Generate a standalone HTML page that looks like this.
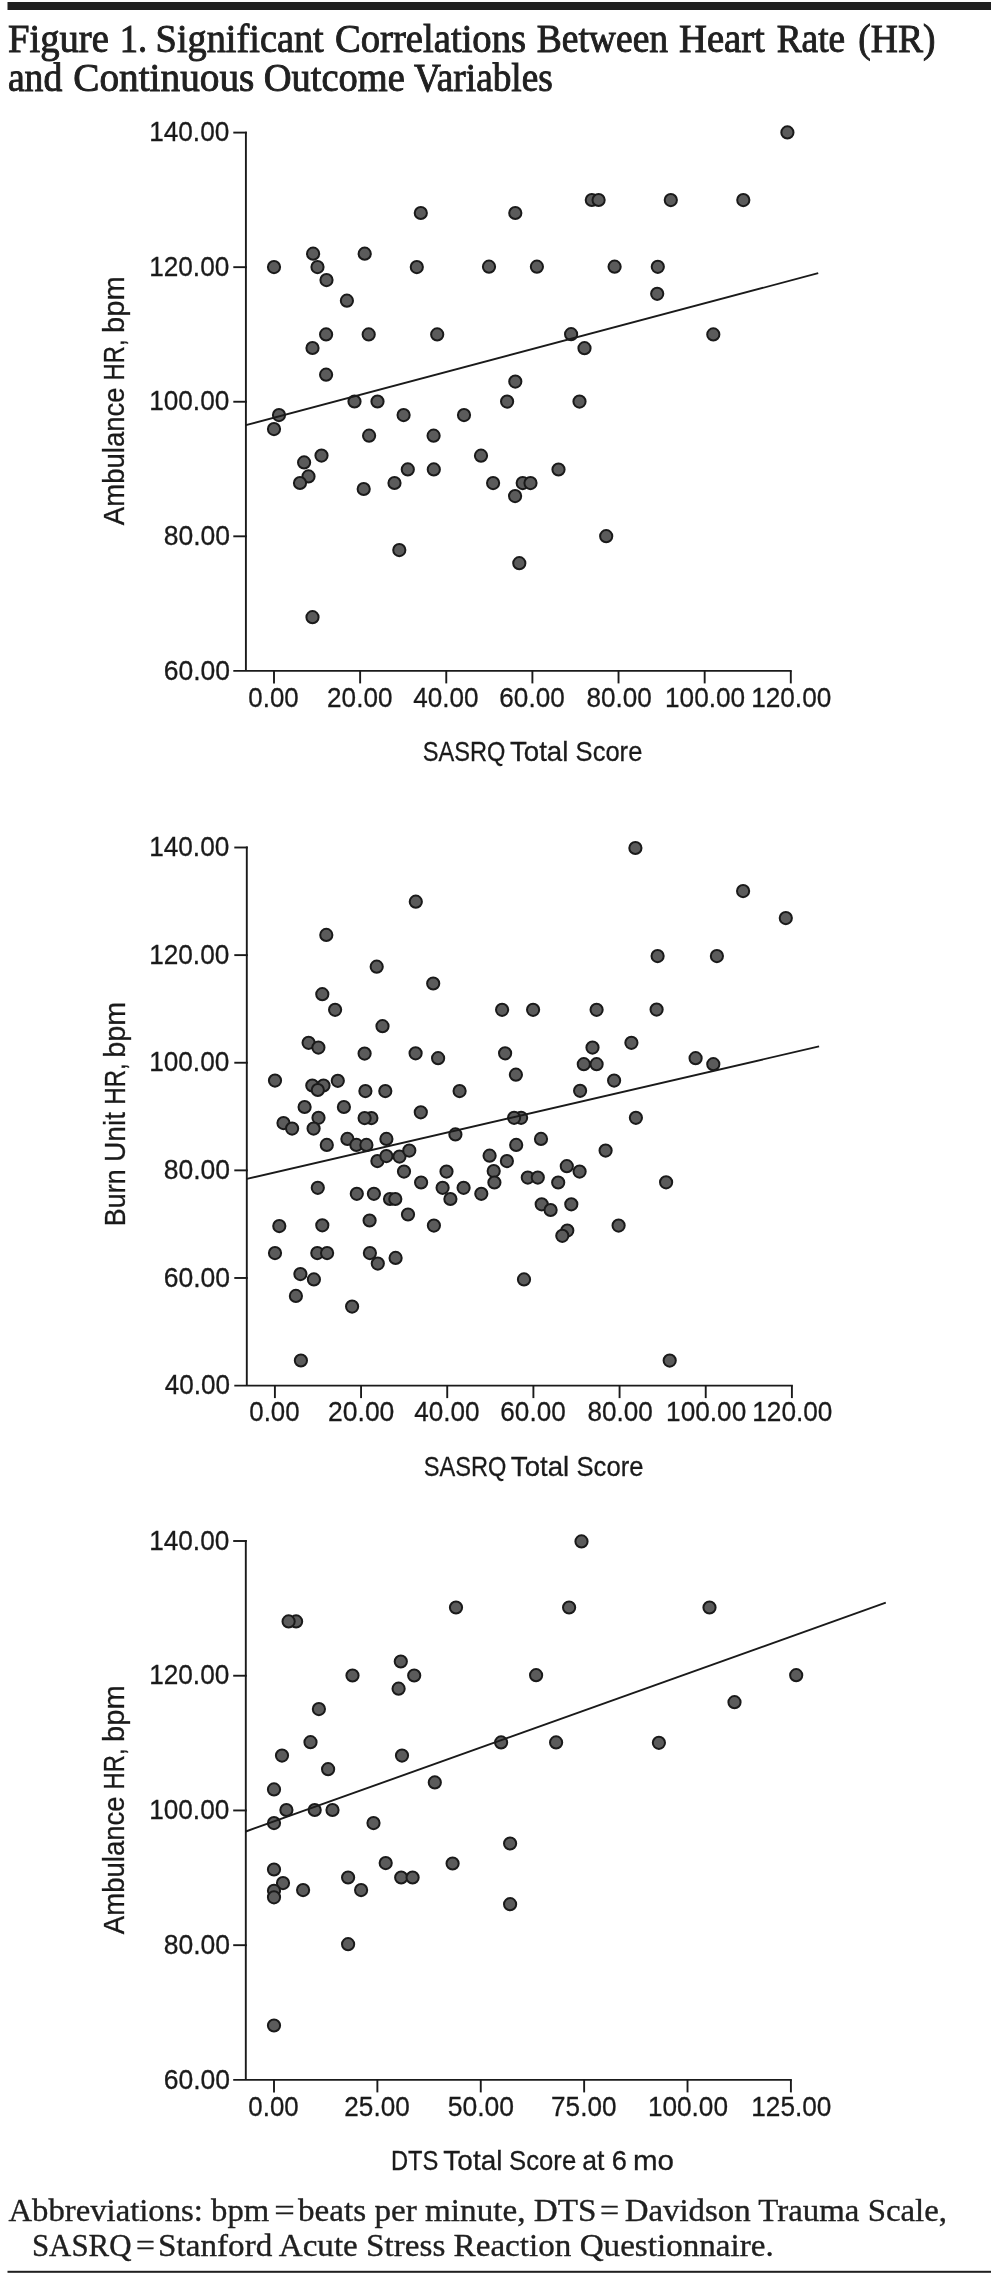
<!DOCTYPE html>
<html><head><meta charset="utf-8"><title>Figure 1</title>
<style>
html,body{margin:0;padding:0;background:#fff;}
body{width:999px;height:2276px;overflow:hidden;}
svg{display:block;will-change:transform;}
text{fill:#1a1a1a;}
.tk,.ti,.tr{stroke:#1a1a1a;stroke-width:0.3px;}
.tk{font-family:"Liberation Sans",sans-serif;font-size:28.0px;}
.ti{font-family:"Liberation Sans",sans-serif;font-size:28.5px;}
.tr{font-family:"Liberation Sans",sans-serif;font-size:29.3px;}
.hd{font-family:"Liberation Serif",serif;font-size:39.5px;fill:#202020;stroke:#202020;stroke-width:0.9px;}
.fn{font-family:"Liberation Serif",serif;font-size:32.5px;fill:#202020;stroke:#202020;stroke-width:0.35px;}
circle{fill:#5b5b5b;stroke:#1a1a1a;stroke-width:2.0;}
.ax{fill:none;stroke:#1a1a1a;stroke-width:1.9;}
</style></head>
<body>
<svg width="999" height="2276" viewBox="0 0 999 2276">
<rect x="7.5" y="2" width="983.5" height="8" fill="#202020"/>
<path d="M245.9 131.65V670.9" class="ax"/>
<path d="M233.3 670.9H791.75" class="ax"/>
<path d="M233.3 132.60H246.85" class="ax"/>
<path d="M233.3 267.17H246.85" class="ax"/>
<path d="M233.3 401.75H246.85" class="ax"/>
<path d="M233.3 536.32H246.85" class="ax"/>
<path d="M274.00 670.9V683.4" class="ax"/>
<path d="M360.13 670.9V683.4" class="ax"/>
<path d="M446.27 670.9V683.4" class="ax"/>
<path d="M532.40 670.9V683.4" class="ax"/>
<path d="M618.53 670.9V683.4" class="ax"/>
<path d="M704.67 670.9V683.4" class="ax"/>
<path d="M790.80 670.9V683.4" class="ax"/>
<circle cx="274.0" cy="267.1" r="6.1"/>
<circle cx="313.1" cy="253.7" r="6.1"/>
<circle cx="317.5" cy="267.1" r="6.1"/>
<circle cx="326.5" cy="280.1" r="6.1"/>
<circle cx="346.9" cy="300.7" r="6.1"/>
<circle cx="364.7" cy="253.7" r="6.1"/>
<circle cx="420.8" cy="213.0" r="6.1"/>
<circle cx="416.8" cy="267.1" r="6.1"/>
<circle cx="326.1" cy="334.4" r="6.1"/>
<circle cx="368.7" cy="334.4" r="6.1"/>
<circle cx="437.2" cy="334.4" r="6.1"/>
<circle cx="312.5" cy="348.0" r="6.1"/>
<circle cx="326.1" cy="374.7" r="6.1"/>
<circle cx="279.0" cy="415.1" r="6.1"/>
<circle cx="274.0" cy="429.1" r="6.1"/>
<circle cx="354.5" cy="401.5" r="6.1"/>
<circle cx="377.5" cy="401.5" r="6.1"/>
<circle cx="403.6" cy="415.1" r="6.1"/>
<circle cx="369.1" cy="435.7" r="6.1"/>
<circle cx="433.6" cy="435.7" r="6.1"/>
<circle cx="321.5" cy="455.6" r="6.1"/>
<circle cx="304.1" cy="462.4" r="6.1"/>
<circle cx="308.5" cy="476.4" r="6.1"/>
<circle cx="300.0" cy="483.0" r="6.1"/>
<circle cx="363.7" cy="489.0" r="6.1"/>
<circle cx="407.8" cy="469.4" r="6.1"/>
<circle cx="433.8" cy="469.4" r="6.1"/>
<circle cx="394.5" cy="483.0" r="6.1"/>
<circle cx="399.3" cy="550.1" r="6.1"/>
<circle cx="312.5" cy="617.2" r="6.1"/>
<circle cx="515.3" cy="213.0" r="6.1"/>
<circle cx="591.8" cy="200.0" r="6.1"/>
<circle cx="598.6" cy="200.0" r="6.1"/>
<circle cx="489.0" cy="266.7" r="6.1"/>
<circle cx="536.9" cy="266.7" r="6.1"/>
<circle cx="614.6" cy="266.7" r="6.1"/>
<circle cx="571.1" cy="334.2" r="6.1"/>
<circle cx="584.5" cy="348.2" r="6.1"/>
<circle cx="515.3" cy="381.6" r="6.1"/>
<circle cx="507.1" cy="401.6" r="6.1"/>
<circle cx="579.5" cy="401.6" r="6.1"/>
<circle cx="464.0" cy="415.1" r="6.1"/>
<circle cx="481.0" cy="455.7" r="6.1"/>
<circle cx="493.1" cy="483.1" r="6.1"/>
<circle cx="522.7" cy="483.1" r="6.1"/>
<circle cx="530.5" cy="483.1" r="6.1"/>
<circle cx="515.1" cy="496.1" r="6.1"/>
<circle cx="558.5" cy="469.5" r="6.1"/>
<circle cx="606.2" cy="536.2" r="6.1"/>
<circle cx="519.3" cy="563.2" r="6.1"/>
<circle cx="787.4" cy="132.4" r="6.1"/>
<circle cx="670.8" cy="200.1" r="6.1"/>
<circle cx="743.3" cy="200.1" r="6.1"/>
<circle cx="657.8" cy="266.8" r="6.1"/>
<circle cx="657.2" cy="293.8" r="6.1"/>
<circle cx="713.3" cy="334.4" r="6.1"/>
<path d="M245.9 425.2L818.2 273.2" class="ax"/>
<path d="M246.8 846.55V1385.6" class="ax"/>
<path d="M234.3 1385.6H792.85" class="ax"/>
<path d="M234.3 847.50H247.75" class="ax"/>
<path d="M234.3 955.12H247.75" class="ax"/>
<path d="M234.3 1062.74H247.75" class="ax"/>
<path d="M234.3 1170.36H247.75" class="ax"/>
<path d="M234.3 1277.98H247.75" class="ax"/>
<path d="M274.90 1385.6V1398.1" class="ax"/>
<path d="M361.07 1385.6V1398.1" class="ax"/>
<path d="M447.23 1385.6V1398.1" class="ax"/>
<path d="M533.40 1385.6V1398.1" class="ax"/>
<path d="M619.57 1385.6V1398.1" class="ax"/>
<path d="M705.73 1385.6V1398.1" class="ax"/>
<path d="M791.90 1385.6V1398.1" class="ax"/>
<circle cx="415.8" cy="901.7" r="6.1"/>
<circle cx="326.3" cy="934.9" r="6.1"/>
<circle cx="376.7" cy="966.7" r="6.1"/>
<circle cx="433.2" cy="983.5" r="6.1"/>
<circle cx="322.3" cy="994.2" r="6.1"/>
<circle cx="335.1" cy="1009.8" r="6.1"/>
<circle cx="382.5" cy="1026.2" r="6.1"/>
<circle cx="308.6" cy="1042.8" r="6.1"/>
<circle cx="318.4" cy="1047.6" r="6.1"/>
<circle cx="364.6" cy="1053.6" r="6.1"/>
<circle cx="275.0" cy="1080.6" r="6.1"/>
<circle cx="312.3" cy="1085.5" r="6.1"/>
<circle cx="323.5" cy="1085.5" r="6.1"/>
<circle cx="317.8" cy="1090.0" r="6.1"/>
<circle cx="337.8" cy="1080.8" r="6.1"/>
<circle cx="365.4" cy="1091.1" r="6.1"/>
<circle cx="385.3" cy="1091.1" r="6.1"/>
<circle cx="304.6" cy="1107.0" r="6.1"/>
<circle cx="343.9" cy="1107.0" r="6.1"/>
<circle cx="318.5" cy="1117.8" r="6.1"/>
<circle cx="371.4" cy="1118.1" r="6.1"/>
<circle cx="364.6" cy="1118.1" r="6.1"/>
<circle cx="283.5" cy="1123.1" r="6.1"/>
<circle cx="292.1" cy="1128.6" r="6.1"/>
<circle cx="313.6" cy="1128.6" r="6.1"/>
<circle cx="326.8" cy="1144.9" r="6.1"/>
<circle cx="347.4" cy="1138.9" r="6.1"/>
<circle cx="356.4" cy="1144.9" r="6.1"/>
<circle cx="366.4" cy="1144.9" r="6.1"/>
<circle cx="386.4" cy="1138.9" r="6.1"/>
<circle cx="377.4" cy="1161.1" r="6.1"/>
<circle cx="386.4" cy="1156.1" r="6.1"/>
<circle cx="415.6" cy="1053.3" r="6.1"/>
<circle cx="438.1" cy="1058.2" r="6.1"/>
<circle cx="505.1" cy="1053.3" r="6.1"/>
<circle cx="515.9" cy="1074.7" r="6.1"/>
<circle cx="459.6" cy="1091.1" r="6.1"/>
<circle cx="420.8" cy="1112.3" r="6.1"/>
<circle cx="521.1" cy="1117.8" r="6.1"/>
<circle cx="514.1" cy="1117.8" r="6.1"/>
<circle cx="455.4" cy="1134.4" r="6.1"/>
<circle cx="516.2" cy="1144.9" r="6.1"/>
<circle cx="399.5" cy="1156.6" r="6.1"/>
<circle cx="409.3" cy="1150.6" r="6.1"/>
<circle cx="489.6" cy="1155.7" r="6.1"/>
<circle cx="506.9" cy="1161.1" r="6.1"/>
<circle cx="404.0" cy="1171.6" r="6.1"/>
<circle cx="446.5" cy="1171.6" r="6.1"/>
<circle cx="493.7" cy="1171.1" r="6.1"/>
<circle cx="592.5" cy="1047.6" r="6.1"/>
<circle cx="631.4" cy="1042.8" r="6.1"/>
<circle cx="583.8" cy="1064.2" r="6.1"/>
<circle cx="596.6" cy="1064.2" r="6.1"/>
<circle cx="614.1" cy="1080.6" r="6.1"/>
<circle cx="580.1" cy="1090.8" r="6.1"/>
<circle cx="635.9" cy="1117.8" r="6.1"/>
<circle cx="541.0" cy="1138.9" r="6.1"/>
<circle cx="605.6" cy="1150.6" r="6.1"/>
<circle cx="566.8" cy="1166.2" r="6.1"/>
<circle cx="579.6" cy="1171.6" r="6.1"/>
<circle cx="695.6" cy="1058.2" r="6.1"/>
<circle cx="713.3" cy="1064.2" r="6.1"/>
<circle cx="502.1" cy="1009.8" r="6.1"/>
<circle cx="533.1" cy="1009.8" r="6.1"/>
<circle cx="596.6" cy="1009.8" r="6.1"/>
<circle cx="635.4" cy="848.0" r="6.1"/>
<circle cx="743.1" cy="891.1" r="6.1"/>
<circle cx="785.8" cy="918.1" r="6.1"/>
<circle cx="657.6" cy="956.1" r="6.1"/>
<circle cx="716.9" cy="956.1" r="6.1"/>
<circle cx="656.6" cy="1009.6" r="6.1"/>
<circle cx="317.8" cy="1187.8" r="6.1"/>
<circle cx="356.8" cy="1193.8" r="6.1"/>
<circle cx="373.9" cy="1193.8" r="6.1"/>
<circle cx="279.3" cy="1226.1" r="6.1"/>
<circle cx="322.3" cy="1225.3" r="6.1"/>
<circle cx="369.6" cy="1220.5" r="6.1"/>
<circle cx="275.0" cy="1253.1" r="6.1"/>
<circle cx="317.3" cy="1253.1" r="6.1"/>
<circle cx="327.1" cy="1253.1" r="6.1"/>
<circle cx="369.9" cy="1253.1" r="6.1"/>
<circle cx="377.8" cy="1263.6" r="6.1"/>
<circle cx="300.4" cy="1274.1" r="6.1"/>
<circle cx="313.9" cy="1279.4" r="6.1"/>
<circle cx="295.9" cy="1295.9" r="6.1"/>
<circle cx="421.1" cy="1182.5" r="6.1"/>
<circle cx="442.6" cy="1187.8" r="6.1"/>
<circle cx="463.6" cy="1187.8" r="6.1"/>
<circle cx="450.4" cy="1199.0" r="6.1"/>
<circle cx="481.3" cy="1193.8" r="6.1"/>
<circle cx="494.4" cy="1182.5" r="6.1"/>
<circle cx="390.0" cy="1199.0" r="6.1"/>
<circle cx="395.3" cy="1199.0" r="6.1"/>
<circle cx="408.0" cy="1214.5" r="6.1"/>
<circle cx="433.9" cy="1225.6" r="6.1"/>
<circle cx="395.6" cy="1257.9" r="6.1"/>
<circle cx="527.8" cy="1177.6" r="6.1"/>
<circle cx="537.8" cy="1177.6" r="6.1"/>
<circle cx="558.2" cy="1182.5" r="6.1"/>
<circle cx="541.7" cy="1204.3" r="6.1"/>
<circle cx="550.6" cy="1210.0" r="6.1"/>
<circle cx="571.3" cy="1204.3" r="6.1"/>
<circle cx="567.3" cy="1230.6" r="6.1"/>
<circle cx="562.3" cy="1235.8" r="6.1"/>
<circle cx="618.6" cy="1225.6" r="6.1"/>
<circle cx="524.0" cy="1279.4" r="6.1"/>
<circle cx="666.1" cy="1182.3" r="6.1"/>
<circle cx="352.1" cy="1306.6" r="6.1"/>
<circle cx="300.9" cy="1360.5" r="6.1"/>
<circle cx="669.7" cy="1360.6" r="6.1"/>
<path d="M246.8 1178.9L819.1 1046.4" class="ax"/>
<path d="M245.8 1540.05V2079.9" class="ax"/>
<path d="M233.2 2079.9H791.85" class="ax"/>
<path d="M233.2 1541.00H246.75" class="ax"/>
<path d="M233.2 1675.72H246.75" class="ax"/>
<path d="M233.2 1810.45H246.75" class="ax"/>
<path d="M233.2 1945.18H246.75" class="ax"/>
<path d="M274.00 2079.9V2092.4" class="ax"/>
<path d="M377.38 2079.9V2092.4" class="ax"/>
<path d="M480.76 2079.9V2092.4" class="ax"/>
<path d="M584.14 2079.9V2092.4" class="ax"/>
<path d="M687.52 2079.9V2092.4" class="ax"/>
<path d="M790.90 2079.9V2092.4" class="ax"/>
<circle cx="296.1" cy="1621.4" r="6.1"/>
<circle cx="288.6" cy="1621.4" r="6.1"/>
<circle cx="352.5" cy="1675.5" r="6.1"/>
<circle cx="400.8" cy="1661.5" r="6.1"/>
<circle cx="414.2" cy="1675.5" r="6.1"/>
<circle cx="398.6" cy="1688.7" r="6.1"/>
<circle cx="318.9" cy="1709.1" r="6.1"/>
<circle cx="310.5" cy="1742.2" r="6.1"/>
<circle cx="282.0" cy="1755.6" r="6.1"/>
<circle cx="402.0" cy="1755.6" r="6.1"/>
<circle cx="328.1" cy="1769.2" r="6.1"/>
<circle cx="274.0" cy="1789.4" r="6.1"/>
<circle cx="286.4" cy="1810.0" r="6.1"/>
<circle cx="314.7" cy="1810.0" r="6.1"/>
<circle cx="332.5" cy="1810.0" r="6.1"/>
<circle cx="274.0" cy="1823.1" r="6.1"/>
<circle cx="373.5" cy="1823.1" r="6.1"/>
<circle cx="434.8" cy="1782.4" r="6.1"/>
<circle cx="274.0" cy="1869.5" r="6.1"/>
<circle cx="283.0" cy="1883.1" r="6.1"/>
<circle cx="274.0" cy="1890.8" r="6.1"/>
<circle cx="274.0" cy="1897.3" r="6.1"/>
<circle cx="303.1" cy="1890.1" r="6.1"/>
<circle cx="348.1" cy="1877.5" r="6.1"/>
<circle cx="361.1" cy="1890.1" r="6.1"/>
<circle cx="385.7" cy="1863.1" r="6.1"/>
<circle cx="401.2" cy="1877.5" r="6.1"/>
<circle cx="412.6" cy="1877.5" r="6.1"/>
<circle cx="348.1" cy="1944.2" r="6.1"/>
<circle cx="274.0" cy="2025.5" r="6.1"/>
<circle cx="581.5" cy="1541.4" r="6.1"/>
<circle cx="456.0" cy="1607.5" r="6.1"/>
<circle cx="569.1" cy="1607.5" r="6.1"/>
<circle cx="536.1" cy="1675.2" r="6.1"/>
<circle cx="501.1" cy="1742.4" r="6.1"/>
<circle cx="556.1" cy="1742.4" r="6.1"/>
<circle cx="510.1" cy="1843.5" r="6.1"/>
<circle cx="452.6" cy="1863.5" r="6.1"/>
<circle cx="510.1" cy="1904.2" r="6.1"/>
<circle cx="709.5" cy="1607.5" r="6.1"/>
<circle cx="796.2" cy="1675.2" r="6.1"/>
<circle cx="734.5" cy="1702.2" r="6.1"/>
<circle cx="658.9" cy="1742.8" r="6.1"/>
<path d="M245.8 1831.5L885.8 1602.7" class="ax"/>
<rect x="7.5" y="2270.8" width="983.5" height="2" fill="#202020"/>
<text class="hd" x="8.01" y="51.80" textLength="100.78" lengthAdjust="spacingAndGlyphs">Figure</text>
<text class="hd" x="119.65" y="51.80" textLength="27.42" lengthAdjust="spacingAndGlyphs">1.</text>
<text class="hd" x="155.59" y="51.80" textLength="168.16" lengthAdjust="spacingAndGlyphs">Significant</text>
<text class="hd" x="335.01" y="51.80" textLength="191.06" lengthAdjust="spacingAndGlyphs">Correlations</text>
<text class="hd" x="536.70" y="51.80" textLength="131.44" lengthAdjust="spacingAndGlyphs">Between</text>
<text class="hd" x="678.99" y="51.80" textLength="85.88" lengthAdjust="spacingAndGlyphs">Heart</text>
<text class="hd" x="776.70" y="51.80" textLength="68.45" lengthAdjust="spacingAndGlyphs">Rate</text>
<text class="hd" x="858.30" y="51.80" textLength="77.12" lengthAdjust="spacingAndGlyphs">(HR)</text>
<text class="hd" x="7.88" y="91.30" textLength="54.41" lengthAdjust="spacingAndGlyphs">and</text>
<text class="hd" x="73.28" y="91.30" textLength="181.02" lengthAdjust="spacingAndGlyphs">Continuous</text>
<text class="hd" x="263.74" y="91.30" textLength="140.99" lengthAdjust="spacingAndGlyphs">Outcome</text>
<text class="hd" x="414.00" y="91.30" textLength="138.75" lengthAdjust="spacingAndGlyphs">Variables</text>
<text class="fn" x="8.49" y="2220.60" textLength="260.73" lengthAdjust="spacingAndGlyphs">Abbreviations: bpm</text>
<text class="fn" x="274.32" y="2220.60" textLength="20.54" lengthAdjust="spacingAndGlyphs">=</text>
<text class="fn" x="298.00" y="2220.60" textLength="298.42" lengthAdjust="spacingAndGlyphs">beats per minute, DTS</text>
<text class="fn" x="599.90" y="2220.60" textLength="19.17" lengthAdjust="spacingAndGlyphs">=</text>
<text class="fn" x="624.71" y="2220.60" textLength="322.36" lengthAdjust="spacingAndGlyphs">Davidson Trauma Scale,</text>
<text class="fn" x="31.96" y="2256.10" textLength="99.51" lengthAdjust="spacingAndGlyphs">SASRQ</text>
<text class="fn" x="135.97" y="2256.10" textLength="18.92" lengthAdjust="spacingAndGlyphs">=</text>
<text class="fn" x="158.13" y="2256.10" textLength="615.68" lengthAdjust="spacingAndGlyphs">Stanford Acute Stress Reaction Questionnaire.</text>
<text class="tk" x="149.17" y="141.30" textLength="80.14" lengthAdjust="spacingAndGlyphs">140.00</text>
<text class="tk" x="149.17" y="275.87" textLength="80.14" lengthAdjust="spacingAndGlyphs">120.00</text>
<text class="tk" x="149.17" y="410.45" textLength="80.14" lengthAdjust="spacingAndGlyphs">100.00</text>
<text class="tk" x="163.68" y="545.02" textLength="66.32" lengthAdjust="spacingAndGlyphs">80.00</text>
<text class="tk" x="163.68" y="679.60" textLength="66.32" lengthAdjust="spacingAndGlyphs">60.00</text>
<text class="tk" x="248.37" y="706.50" textLength="50.25" lengthAdjust="spacingAndGlyphs">0.00</text>
<text class="tk" x="327.12" y="706.50" textLength="65.31" lengthAdjust="spacingAndGlyphs">20.00</text>
<text class="tk" x="413.27" y="706.50" textLength="65.30" lengthAdjust="spacingAndGlyphs">40.00</text>
<text class="tk" x="499.37" y="706.50" textLength="65.31" lengthAdjust="spacingAndGlyphs">60.00</text>
<text class="tk" x="586.52" y="706.50" textLength="65.30" lengthAdjust="spacingAndGlyphs">80.00</text>
<text class="tk" x="665.04" y="706.50" textLength="80.14" lengthAdjust="spacingAndGlyphs">100.00</text>
<text class="tk" x="751.17" y="706.50" textLength="80.14" lengthAdjust="spacingAndGlyphs">120.00</text>
<text class="ti" x="422.79" y="760.80" textLength="82.63" lengthAdjust="spacingAndGlyphs">SASRQ</text>
<text class="ti" x="509.97" y="760.80" textLength="58.41" lengthAdjust="spacingAndGlyphs">Total</text>
<text class="ti" x="575.59" y="760.80" textLength="66.77" lengthAdjust="spacingAndGlyphs">Score</text>
<text class="tr" transform="translate(123.60,525.14) rotate(-90)" textLength="137.84" lengthAdjust="spacingAndGlyphs">Ambulance</text>
<text class="tr" transform="translate(123.60,380.38) rotate(-90)" textLength="41.06" lengthAdjust="spacingAndGlyphs">HR,</text>
<text class="tr" transform="translate(123.60,332.88) rotate(-90)" textLength="56.64" lengthAdjust="spacingAndGlyphs">bpm</text>
<text class="tk" x="149.17" y="856.20" textLength="80.14" lengthAdjust="spacingAndGlyphs">140.00</text>
<text class="tk" x="149.17" y="963.82" textLength="80.14" lengthAdjust="spacingAndGlyphs">120.00</text>
<text class="tk" x="149.17" y="1071.44" textLength="80.14" lengthAdjust="spacingAndGlyphs">100.00</text>
<text class="tk" x="163.68" y="1179.06" textLength="66.32" lengthAdjust="spacingAndGlyphs">80.00</text>
<text class="tk" x="163.68" y="1286.68" textLength="66.32" lengthAdjust="spacingAndGlyphs">60.00</text>
<text class="tk" x="164.70" y="1394.30" textLength="65.28" lengthAdjust="spacingAndGlyphs">40.00</text>
<text class="tk" x="249.30" y="1421.20" textLength="50.23" lengthAdjust="spacingAndGlyphs">0.00</text>
<text class="tk" x="328.05" y="1421.20" textLength="66.32" lengthAdjust="spacingAndGlyphs">20.00</text>
<text class="tk" x="414.23" y="1421.20" textLength="65.30" lengthAdjust="spacingAndGlyphs">40.00</text>
<text class="tk" x="500.37" y="1421.20" textLength="65.31" lengthAdjust="spacingAndGlyphs">60.00</text>
<text class="tk" x="587.55" y="1421.20" textLength="65.30" lengthAdjust="spacingAndGlyphs">80.00</text>
<text class="tk" x="666.11" y="1421.20" textLength="80.14" lengthAdjust="spacingAndGlyphs">100.00</text>
<text class="tk" x="752.27" y="1421.20" textLength="80.14" lengthAdjust="spacingAndGlyphs">120.00</text>
<text class="ti" x="423.69" y="1475.60" textLength="82.63" lengthAdjust="spacingAndGlyphs">SASRQ</text>
<text class="ti" x="510.86" y="1475.60" textLength="58.41" lengthAdjust="spacingAndGlyphs">Total</text>
<text class="ti" x="576.49" y="1475.60" textLength="66.98" lengthAdjust="spacingAndGlyphs">Score</text>
<text class="tr" transform="translate(124.60,1226.13) rotate(-90)" textLength="56.90" lengthAdjust="spacingAndGlyphs">Burn</text>
<text class="tr" transform="translate(124.60,1162.09) rotate(-90)" textLength="50.06" lengthAdjust="spacingAndGlyphs">Unit</text>
<text class="tr" transform="translate(124.60,1104.69) rotate(-90)" textLength="41.48" lengthAdjust="spacingAndGlyphs">HR,</text>
<text class="tr" transform="translate(124.60,1057.69) rotate(-90)" textLength="56.01" lengthAdjust="spacingAndGlyphs">bpm</text>
<text class="tk" x="149.17" y="1549.70" textLength="80.14" lengthAdjust="spacingAndGlyphs">140.00</text>
<text class="tk" x="149.17" y="1684.42" textLength="80.14" lengthAdjust="spacingAndGlyphs">120.00</text>
<text class="tk" x="149.17" y="1819.15" textLength="80.14" lengthAdjust="spacingAndGlyphs">100.00</text>
<text class="tk" x="163.68" y="1953.88" textLength="66.32" lengthAdjust="spacingAndGlyphs">80.00</text>
<text class="tk" x="163.68" y="2088.60" textLength="66.32" lengthAdjust="spacingAndGlyphs">60.00</text>
<text class="tk" x="248.37" y="2115.50" textLength="50.25" lengthAdjust="spacingAndGlyphs">0.00</text>
<text class="tk" x="344.36" y="2115.50" textLength="65.30" lengthAdjust="spacingAndGlyphs">25.00</text>
<text class="tk" x="447.74" y="2115.50" textLength="66.32" lengthAdjust="spacingAndGlyphs">50.00</text>
<text class="tk" x="551.12" y="2115.50" textLength="65.31" lengthAdjust="spacingAndGlyphs">75.00</text>
<text class="tk" x="647.89" y="2115.50" textLength="80.14" lengthAdjust="spacingAndGlyphs">100.00</text>
<text class="tk" x="751.27" y="2115.50" textLength="80.14" lengthAdjust="spacingAndGlyphs">125.00</text>
<text class="ti" x="390.92" y="2169.70" textLength="47.45" lengthAdjust="spacingAndGlyphs">DTS</text>
<text class="ti" x="443.37" y="2169.70" textLength="59.04" lengthAdjust="spacingAndGlyphs">Total</text>
<text class="ti" x="509.09" y="2169.70" textLength="67.14" lengthAdjust="spacingAndGlyphs">Score</text>
<text class="ti" x="582.30" y="2169.70" textLength="22.16" lengthAdjust="spacingAndGlyphs">at</text>
<text class="ti" x="611.78" y="2169.70" textLength="15.14" lengthAdjust="spacingAndGlyphs">6</text>
<text class="ti" x="632.95" y="2169.70" textLength="41.06" lengthAdjust="spacingAndGlyphs">mo</text>
<text class="tr" transform="translate(123.60,1934.14) rotate(-90)" textLength="137.84" lengthAdjust="spacingAndGlyphs">Ambulance</text>
<text class="tr" transform="translate(123.60,1789.38) rotate(-90)" textLength="41.06" lengthAdjust="spacingAndGlyphs">HR,</text>
<text class="tr" transform="translate(123.60,1741.88) rotate(-90)" textLength="56.64" lengthAdjust="spacingAndGlyphs">bpm</text>
</svg>
</body></html>
